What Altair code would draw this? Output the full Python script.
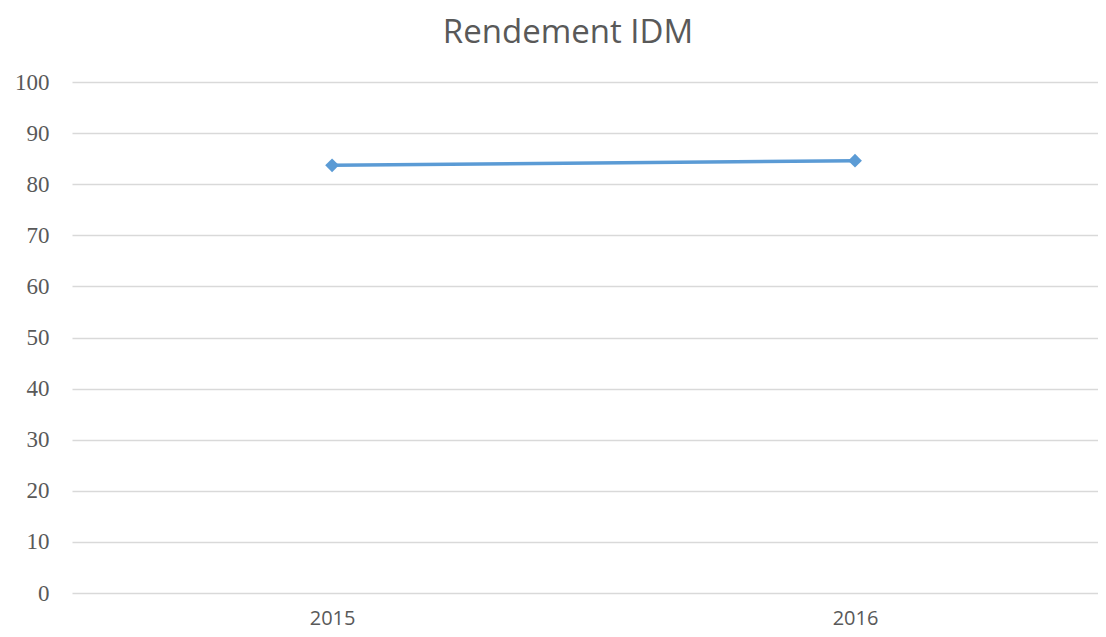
import altair as alt
import pandas as pd

years = ["2015", "2016"]
values = [83.7, 84.6]
title_text = "Rendement IDM"

df = pd.DataFrame({"year": years, "value": values})

base = alt.Chart(df).encode(
    x=alt.X(
        "year:N",
        title=None,
        sort=years,
        scale=alt.Scale(type="point", padding=0.481, align=0.517),
        axis=alt.Axis(
            labelAngle=0,
            labelFont="Open Sans",
            labelFontSize=20,
            labelColor="#595959",
            labelPadding=15,
            ticks=False,
            domain=False,
            grid=False,
        ),
    ),
    y=alt.Y(
        "value:Q",
        title=None,
        scale=alt.Scale(domain=[0, 100], nice=False),
        axis=alt.Axis(
            values=list(range(0, 101, 10)),
            labelFont="Liberation Serif",
            labelFontSize=23,
            labelColor="#595959",
            labelPadding=23,
            ticks=False,
            domain=False,
            gridColor="#D9D9D9",
            gridWidth=1.3,
        ),
    ),
)

line = base.mark_line(color="#5B9BD5", strokeWidth=3.5)
points = base.mark_point(shape="diamond", filled=True, color="#5B9BD5", size=190, opacity=1)

chart = (
    (line + points)
    .properties(
        width=1026,
        height=511,
        padding={"left": 64, "top": 74, "right": 0, "bottom": 36},
        autosize=alt.AutoSizeParams(type="none"),
        title=alt.TitleParams(
            text=title_text,
            font="Open Sans",
            fontSize=33,
            fontWeight="normal",
            color="#595959",
            anchor="middle",
            offset=21,
            dx=-17,
        ),
    )
    .configure_view(stroke=None)
)

chart.save("out.html", embed_options={"renderer": "svg", "actions": False})
